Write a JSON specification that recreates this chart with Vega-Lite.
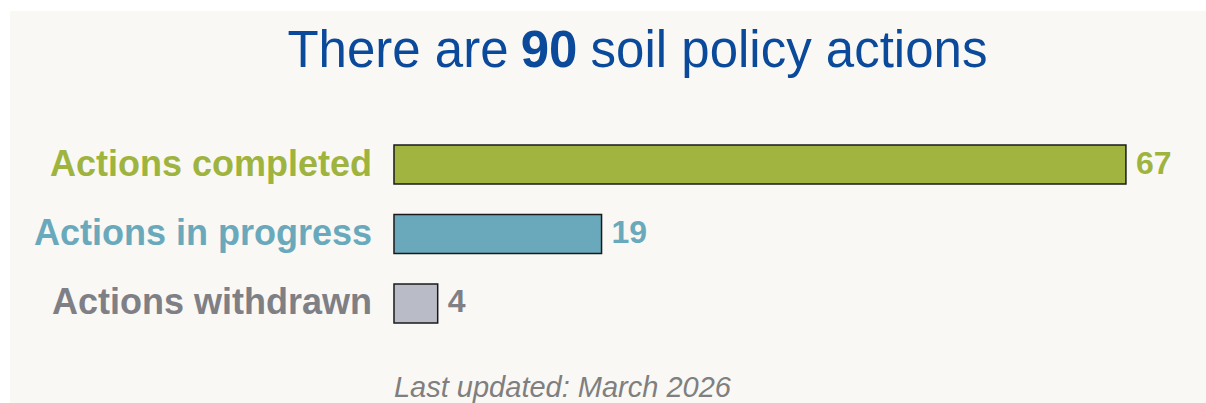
{
  "$schema": "https://vega.github.io/schema/vega-lite/v6.json",
  "width": 1196,
  "height": 392,
  "autosize": "none",
  "padding": {"left": 10, "top": 11, "right": 0, "bottom": 0},
  "background": "#ffffff",
  "config": {
    "view": {"fill": "#f9f8f5", "stroke": null},
    "font": "Liberation Sans",
    "text": {"font": "Liberation Sans"}
  },
  "datasets": {
    "actions": [
      {"status": "Actions completed", "count": 67},
      {"status": "Actions in progress", "count": 19},
      {"status": "Actions withdrawn", "count": 4}
    ]
  },
  "layer": [
    {
      "data": {"name": "actions"},
      "mark": {"type": "bar", "stroke": "#1a1a1a", "strokeWidth": 1.5},
      "encoding": {
        "y": {
          "field": "status",
          "type": "nominal",
          "axis": null,
          "scale": {
            "domain": ["header", "Actions completed", "Actions in progress", "Actions withdrawn", "footer"],
            "paddingInner": 0.4388,
            "paddingOuter": 0.5396,
            "align": 0.86,
            "round": false
          }
        },
        "x": {
          "field": "count",
          "type": "quantitative",
          "axis": null,
          "scale": {"domain": [-35.15, 74.33], "nice": false, "zero": false}
        },
        "fill": {
          "field": "status",
          "type": "nominal",
          "legend": null,
          "scale": {
            "domain": ["Actions completed", "Actions in progress", "Actions withdrawn"],
            "range": ["#a0b43f", "#6aa9bb", "#b9bcc6"]
          }
        }
      }
    },
    {
      "data": {"name": "actions"},
      "mark": {"type": "text", "align": "right", "baseline": "middle", "dx": -22, "fontSize": 36, "fontWeight": "bold"},
      "encoding": {
        "y": {"field": "status", "type": "nominal", "axis": null},
        "x": {"datum": 0, "type": "quantitative", "axis": null},
        "text": {"field": "status"},
        "color": {
          "field": "status",
          "type": "nominal",
          "legend": null,
          "scale": {
            "domain": ["Actions completed", "Actions in progress", "Actions withdrawn"],
            "range": ["#9fb43e", "#6aa9bb", "#7f7f86"]
          }
        }
      }
    },
    {
      "data": {"name": "actions"},
      "mark": {"type": "text", "align": "left", "baseline": "middle", "dx": 10, "dy": -1, "fontSize": 32, "fontWeight": "bold"},
      "encoding": {
        "y": {"field": "status", "type": "nominal", "axis": null},
        "x": {"field": "count", "type": "quantitative", "axis": null},
        "text": {"field": "count"},
        "color": {"field": "status", "type": "nominal", "legend": null}
      }
    },
    {
      "data": {"values": [{"words": "There are"}]},
      "mark": {"type": "text", "align": "center", "baseline": "alphabetic", "dx": 4, "dy": -28, "fontSize": 51, "color": "#0b4a9b"},
      "encoding": {
        "y": {"datum": "header", "type": "nominal", "axis": null},
        "x": {"datum": 0, "type": "quantitative", "axis": null},
        "text": {"field": "words"}
      }
    },
    {
      "data": {"name": "actions"},
      "transform": [{"aggregate": [{"op": "sum", "field": "count", "as": "total"}]}],
      "mark": {"type": "text", "align": "center", "baseline": "alphabetic", "dx": 155, "dy": -28, "fontSize": 51, "fontWeight": "bold", "color": "#0b4a9b"},
      "encoding": {
        "y": {"datum": "header", "type": "nominal", "axis": null},
        "x": {"datum": 0, "type": "quantitative", "axis": null},
        "text": {"field": "total"}
      }
    },
    {
      "data": {"values": [{"words": "soil policy actions"}]},
      "mark": {"type": "text", "align": "center", "baseline": "alphabetic", "dx": 395, "dy": -28, "fontSize": 51, "color": "#0b4a9b"},
      "encoding": {
        "y": {"datum": "header", "type": "nominal", "axis": null},
        "x": {"datum": 0, "type": "quantitative", "axis": null},
        "text": {"field": "words"}
      }
    },
    {
      "data": {"values": [{"note": "Last updated: March 2026"}]},
      "mark": {"type": "text", "align": "left", "baseline": "alphabetic", "dy": 24, "fontSize": 29, "fontStyle": "italic", "color": "#7f7f7f"},
      "encoding": {
        "y": {"datum": "footer", "type": "nominal", "axis": null},
        "x": {"datum": 0, "type": "quantitative", "axis": null},
        "text": {"field": "note"}
      }
    }
  ]
}
